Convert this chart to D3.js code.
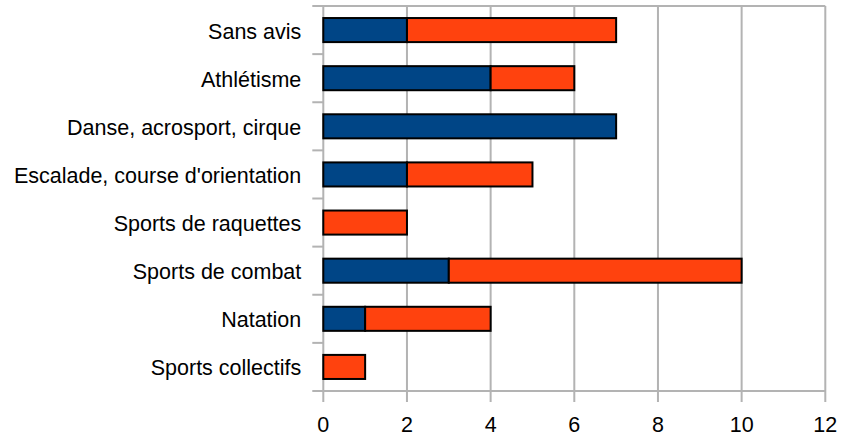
<!DOCTYPE html>
<html><head><meta charset="utf-8">
<script src="https://cdn.jsdelivr.net/npm/d3@7"></script>
<style>body{margin:0;background:#fff}svg{display:block}</style>
</head><body>
<svg id="c" width="856" height="437"></svg>
<script>
const categories = ["Sans avis","Athlétisme","Danse, acrosport, cirque","Escalade, course d'orientation","Sports de raquettes","Sports de combat","Natation","Sports collectifs"];
const seriesA = [2,4,7,2,0,3,1,0];
const seriesB = [5,2,0,3,2,7,3,1];
const xTicks = [0,2,4,6,8,10,12];
const colors = ["#004586","#ff420e"];

const svg = d3.select("#c");
const L = 323.3, R = 825.3, T = 6, B = 391;
const x = d3.scaleLinear().domain([0,12]).range([L,R]);
const y = d3.scaleBand().domain(categories).range([T,B]).paddingInner(0.5).paddingOuter(0.25);
const yb = d3.scaleBand().domain(categories).range([T,B]);
const grid = "#b3b3b3";

svg.append("g").selectAll("line").data(xTicks).join("line")
  .attr("x1",d=>x(d)).attr("x2",d=>x(d)).attr("y1",T).attr("y2",B+11)
  .attr("stroke",grid).attr("stroke-width",2);
svg.append("line").attr("x1",L-11).attr("x2",R).attr("y1",T).attr("y2",T).attr("stroke",grid).attr("stroke-width",2);
svg.append("line").attr("x1",L-11).attr("x2",R).attr("y1",B).attr("y2",B).attr("stroke",grid).attr("stroke-width",2);
svg.append("g").selectAll("line").data(categories.slice(1)).join("line")
  .attr("x1",L-11).attr("x2",L).attr("y1",d=>yb(d)).attr("y2",d=>yb(d))
  .attr("stroke",grid).attr("stroke-width",2);

const data = categories.map((c,i)=>({c,a:seriesA[i],b:seriesB[i]}));
const stack = d3.stack().keys(["a","b"])(data);
svg.append("g").selectAll("g").data(stack).join("g").attr("fill",(d,i)=>colors[i])
  .selectAll("rect").data(d=>d.filter(p=>p[1]-p[0]>0)).join("rect")
  .attr("x",d=>x(d[0])).attr("width",d=>x(d[1])-x(d[0]))
  .attr("y",d=>y(d.data.c)).attr("height",y.bandwidth())
  .attr("stroke","#000").attr("stroke-width",2);

const font = "Liberation Sans, Arial, sans-serif";
svg.append("g").selectAll("text").data(categories).join("text")
  .attr("x",L-22).attr("y",d=>yb(d)+yb.bandwidth()/2+1).attr("dy","0.35em")
  .attr("text-anchor","end").attr("font-family",font).attr("font-size",21.5).attr("fill","#000")
  .text(d=>d);
svg.append("g").selectAll("text").data(xTicks).join("text")
  .attr("x",d=>x(d)).attr("y",424.5).attr("dy","0.35em")
  .attr("text-anchor","middle").attr("font-family",font).attr("font-size",21.5).attr("fill","#000")
  .text(d=>d);
</script>
</body></html>
